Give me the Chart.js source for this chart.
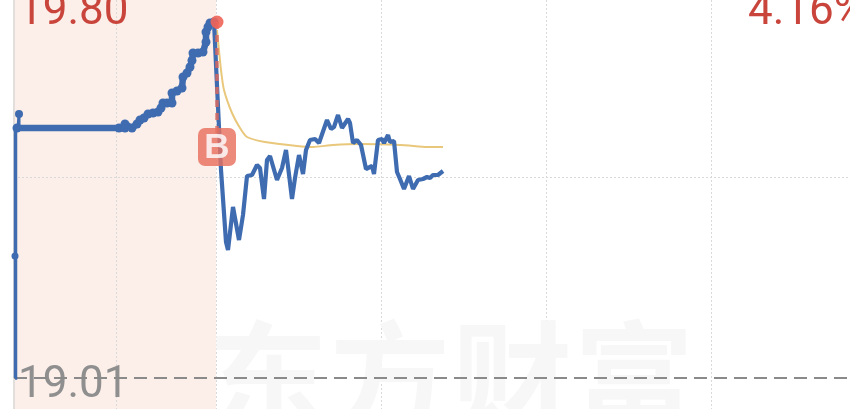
<!DOCTYPE html>
<html><head><meta charset="utf-8">
<style>html,body{margin:0;padding:0;background:#fff;overflow:hidden}canvas{display:block}</style>
<script src="https://cdn.jsdelivr.net/npm/chart.js@4"></script></head>
<body><canvas id="c" width="850" height="409"></canvas>
<script>
const highLabel = "19.80", pctLabel = "4.16%", baseLabel = "19.01", watermark = ["东","方","财","富"];
const basePrice = 19.01, midPrice = 19.412;
const gridTicks = [-101, -1, 164, 329, 494];
const auctionX = [-202,-202,-201];
const auctionY = [19.01,19.254,19.51];
const spikeX = [-199,-198,-198];
const spikeY = [19.51,19.538,19.51];
const preX = [-200,-98,-92,-92,-85,-80,-77,-73,-69,-64,-59,-56,-54,-50,-45,-45,-40,-35,-34,-30,-27,-25,-24,-19,-14,-11,-11,-9,-7,-3];
const preY = [19.51,19.51,19.51,19.518,19.51,19.518,19.526,19.53,19.538,19.54,19.542,19.55,19.56,19.56,19.56,19.58,19.584,19.59,19.612,19.62,19.632,19.645,19.66,19.66,19.662,19.682,19.702,19.712,19.72,19.722];
const sessionX = [-3,4,9,11,16,22,26,30,35,40,43,47,50,53,60,65,69,75,78,82,86,89,93,98,102,110,114,117,121,125,131,133,136,140,144,149,155,157,161,165,167,171,173,177,180,183,187,192,196,201,206,210,213,216,221,226];
const sessionY = [19.722,19.426,19.282,19.266,19.352,19.286,19.336,19.414,19.416,19.436,19.43,19.368,19.446,19.454,19.406,19.43,19.466,19.368,19.41,19.456,19.418,19.466,19.486,19.488,19.48,19.526,19.508,19.512,19.536,19.51,19.528,19.52,19.48,19.486,19.476,19.428,19.434,19.418,19.486,19.488,19.48,19.496,19.482,19.484,19.422,19.408,19.388,19.414,19.388,19.406,19.408,19.412,19.41,19.416,19.416,19.424];
const avgX = [0,4,7,15,23,30,48,80,96,116,143,183,210,226];
const avgY = [19.706,19.626,19.586,19.54,19.51,19.492,19.482,19.474,19.472,19.476,19.478,19.476,19.472,19.472];
const zip = (xs, ys) => xs.map((x, i) => ({x, y: ys[i]}));

const decor = {
  id: 'decor',
  beforeDatasetsDraw(ch) {
    const {ctx, scales: {x, y}, chartArea: a} = ch;
    const x0 = x.getPixelForValue(-203), x1 = x.getPixelForValue(-1);
    ctx.save();
    ctx.fillStyle = '#fcefe9';
    ctx.fillRect(x0, a.top, x1 - x0, a.bottom - a.top);
    ctx.fillStyle = '#e2dedb';
    ctx.fillRect(x0 - 1, a.top, 2, a.bottom - a.top);
    ctx.strokeStyle = '#d9d9d9'; ctx.lineWidth = 1; ctx.setLineDash([2, 2]);
    gridTicks.forEach(v => { const p = Math.round(x.getPixelForValue(v)) + .5; ctx.beginPath(); ctx.moveTo(p, a.top); ctx.lineTo(p, a.bottom); ctx.stroke(); });
    const m = Math.round(y.getPixelForValue(midPrice)) + .5;
    ctx.beginPath(); ctx.moveTo(x0, m); ctx.lineTo(a.right, m); ctx.stroke();
    ctx.setLineDash([]);
    ctx.font = '700 120px "Noto Sans CJK SC"';
    ctx.fillStyle = '#f7f7f7'; ctx.textAlign = 'left'; ctx.textBaseline = 'alphabetic';
    watermark.forEach((w, i) => ctx.fillText(w, x.getPixelForValue(-9 + i * 122), 423));
    ctx.font = '400 44px Roboto';
    ctx.fillStyle = '#c9453c';
    ctx.fillText(highLabel, 18, 24);
    ctx.fillText(pctLabel, 748, 24);
    ctx.fillStyle = '#8f8f8f';
    ctx.fillText(baseLabel, 18, 397);
    ctx.restore();
  },
  afterDatasetsDraw(ch) {
    const {ctx, scales: {x, y}} = ch;
    const cx = x.getPixelForValue(0), cy = y.getPixelForValue(19.472);
    ctx.save();
    ctx.globalAlpha = .82;
    ctx.fillStyle = '#e8705f';
    ctx.beginPath(); ctx.roundRect(cx - 19, cy - 19, 38, 38, 7); ctx.fill();
    ctx.fillStyle = '#fff';
    ctx.font = '700 35px "Liberation Sans"';
    ctx.textAlign = 'center'; ctx.textBaseline = 'middle';
    ctx.fillText('B', cx, cy + 1);
    ctx.restore();
  }
};

new Chart(document.getElementById('c'), {
  type: 'line',
  plugins: [decor],
  data: { datasets: [
    {data: zip([0, 0], [19.722, 19.49]), borderColor:'rgba(217,105,95,.85)', borderWidth:3.5, borderDash:[7,6], pointRadius:[6.5,0], pointBackgroundColor:'rgba(238,100,88,.9)', pointBorderWidth:0},
    {data: zip(sessionX, sessionY), borderColor:'#3f6cb0', borderWidth:4.2, pointRadius:0, borderJoinStyle:'bevel'},
    {data: zip(preX, preY), borderColor:'#3f6cb0', borderWidth:6.5, pointRadius:4.5, pointBackgroundColor:'#3f6cb0', pointBorderWidth:0, borderCapStyle:'round', borderJoinStyle:'round'},
    {data: zip(spikeX, spikeY), borderColor:'#3f6cb0', borderWidth:3, pointRadius:[0,4,0], pointBackgroundColor:'#3f6cb0', pointBorderWidth:0},
    {data: zip(auctionX, auctionY), borderColor:'#3f6cb0', borderWidth:3.5, pointRadius:[0,3.5,0], pointBackgroundColor:'#3f6cb0', pointBorderWidth:0},
    {data: zip(avgX, avgY), borderColor:'#e9c77b', borderWidth:2, pointRadius:0, tension:.2},
    {data: zip([-203, 633], [basePrice, basePrice]), borderColor:'#8a8a8a', borderWidth:2, borderDash:[13,7], pointRadius:0}
  ]},
  options: {
    responsive:false, animation:false, clip:false,
    layout:{padding:0, autoPadding:false},
    plugins:{legend:{display:false}, tooltip:{enabled:false}},
    scales:{
      x:{type:'linear', min:-217, max:633, ticks:{display:false}, grid:{display:false, drawTicks:false}, border:{display:false}},
      y:{type:'linear', min:18.948, max:19.766, ticks:{display:false}, grid:{display:false, drawTicks:false}, border:{display:false}}
    }
  }
});
</script></body></html>
